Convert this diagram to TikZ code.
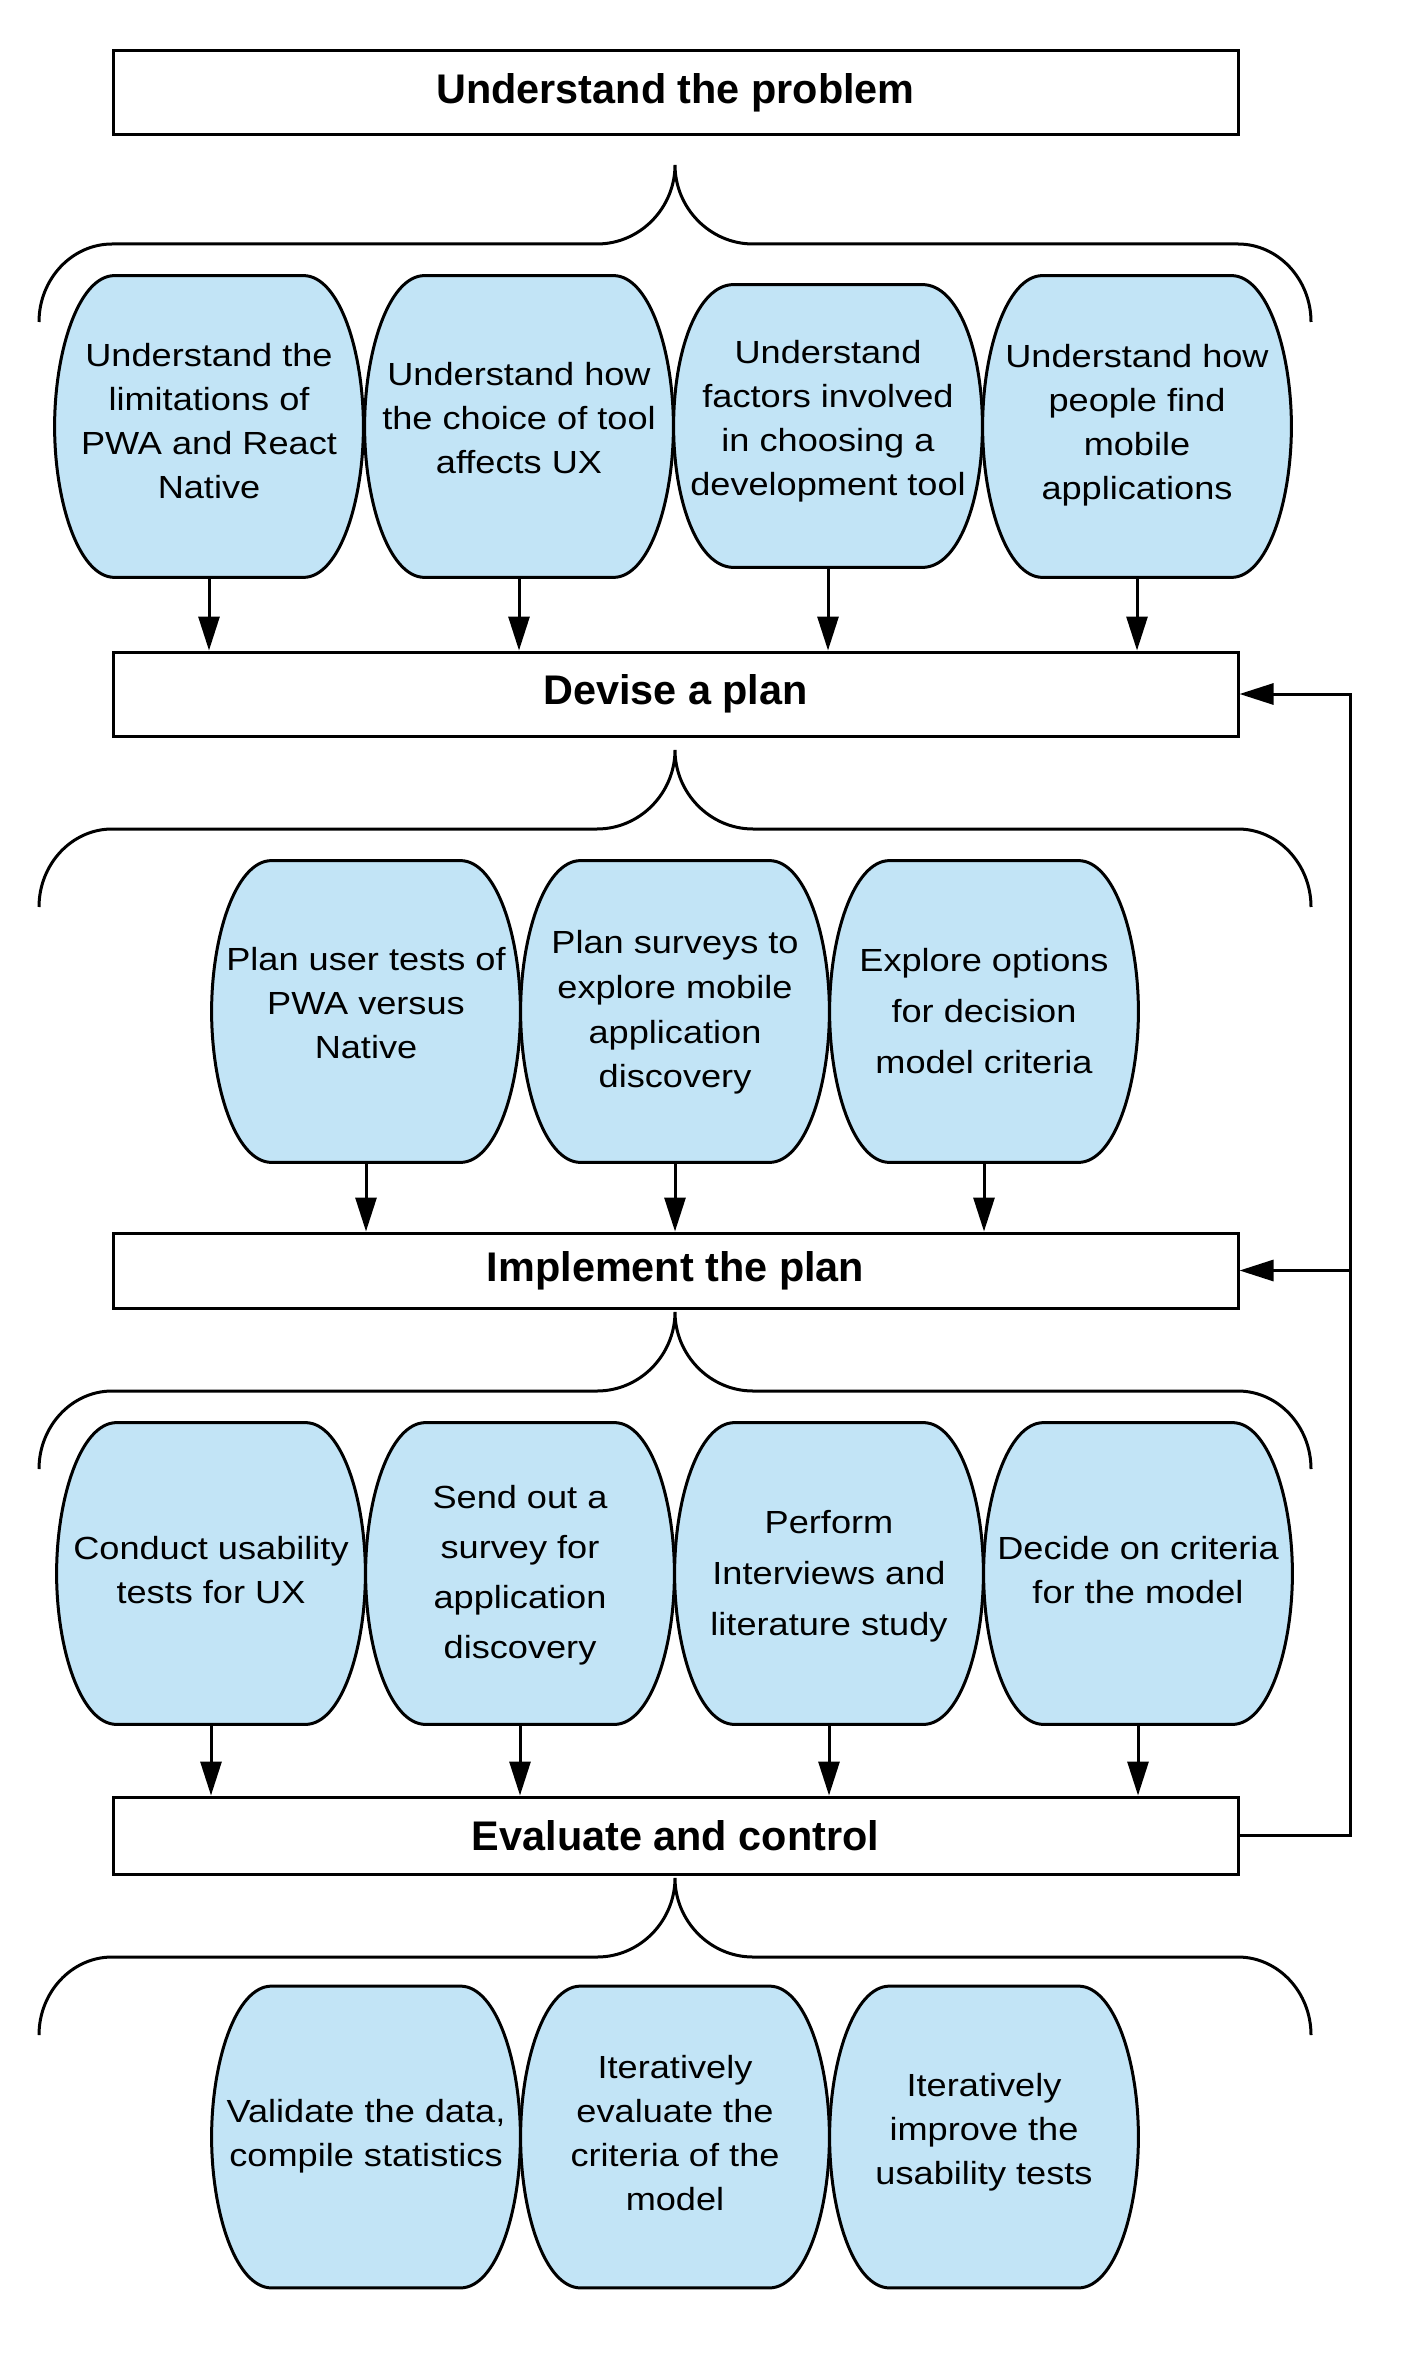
\documentclass[tikz,border=0pt]{standalone}
\usepackage{fontspec}
\setmainfont{Liberation Sans}
\newfontfamily\pillfont{Liberation Sans}[FakeStretch=1.13]
\usetikzlibrary{calc,arrows.meta}
\definecolor{pillblue}{RGB}{194,228,246}
\pgfdeclarelayer{bg}
\pgfsetlayers{bg,main}
\tikzset{
  ln/.style={line width=1.5pt,draw=black},
  arr/.style={ln,-{Triangle[length=17pt,width=10.5pt]}},
  titlebox/.style={ln,rectangle,minimum width=562.5pt,inner sep=0pt,
     font=\bfseries\fontsize{20.7}{24}\selectfont},
  pillbox/.style={rectangle,draw=none,inner sep=0pt,minimum width=154pt,minimum height=150.5pt},
  pilltext/.style={align=center,inner sep=0pt,font=\pillfont\fontsize{16}{22}\selectfont},
  pillshape/.style={ln,fill=pillblue,line join=round}
}
\newcommand\pillpath[1]{%
\begin{pgfonlayer}{bg}
\path[pillshape] ($(#1.north west)+(60,0)$) -- ($(#1.north east)+(-60,0)$)
 .. controls ($(#1.north east)+(-24,0)$) and ($(#1.east)+(0,-75)$) .. (#1.east)
 .. controls ($(#1.east)+(0,75)$) and ($(#1.south east)+(-24,0)$) .. ($(#1.south east)+(-60,0)$)
 -- ($(#1.south west)+(60,0)$)
 .. controls ($(#1.south west)+(24,0)$) and ($(#1.west)+(0,75)$) .. (#1.west)
 .. controls ($(#1.west)+(0,-75)$) and ($(#1.north west)+(24,0)$) .. ($(#1.north west)+(60,0)$) -- cycle;
\end{pgfonlayer}}
% brace: #1 = tip y
\newcommand\mybrace[1]{%
\draw[ln] (39,#1+157) .. controls (39,#1+114) and (72,#1+79) .. (112,#1+79)
  -- (597,#1+79) .. controls (640,#1+79) and (675,#1+43) .. (675,#1)
  .. controls (675,#1+43) and (710,#1+79) .. (753,#1+79)
  -- (1238,#1+79) .. controls (1278,#1+79) and (1311,#1+114) .. (1311,#1+157);}
\begin{document}
\begin{tikzpicture}[x=0.5pt,y=-0.5pt]
\begin{pgfonlayer}{bg}
\fill[white] (0,0) rectangle (1403,2353);
\end{pgfonlayer}
\useasboundingbox (0,0) rectangle (1403,2353);

% title boxes
\node[titlebox,minimum height=42pt] (box1) at (675.5,93) {Understand the problem};
\node[titlebox,minimum height=42pt] (box2) at (675.5,694) {Devise a plan};
\node[titlebox,minimum height=37.5pt] (box3) at (675.5,1270.5) {Implement the plan};
\node[titlebox,minimum height=38.5pt] (box4) at (675.5,1835.5) {Evaluate and control};

% braces
\mybrace{165}
\mybrace{750}
\mybrace{1312}
\mybrace{1878}

% row 1
\node[pillbox] (p11) at (209,426.5) {};
\node[pillbox] (p12) at (519,426.5) {};
\node[pillbox,minimum height=141pt] (p13) at (828,426) {};
\node[pillbox] (p14) at (1137,426.5) {};
\pillpath{p11}\pillpath{p12}\pillpath{p13}\pillpath{p14}
\node[pilltext] (t11) at ([yshift=2.5pt]p11.center) {Understand the\\limitations of\\PWA and React\\Native};
\node[pilltext] (t12) at ([yshift=4.25pt]p12.center) {Understand how\\the choice of tool\\affects UX};
\node[pilltext] (t13) at ([yshift=2.25pt]p13.center) {Understand\\factors involved\\in choosing a\\development tool};
\node[pilltext] (t14) at ([yshift=0.5pt]p14.center) {Understand how\\people find\\mobile\\applications};

% row 2
\node[pillbox] (p21) at (366,1011.5) {};
\node[pillbox] (p22) at (675,1011.5) {};
\node[pillbox] (p23) at (984,1011.5) {};
\pillpath{p21}\pillpath{p22}\pillpath{p23}
\node[pilltext] (t21) at ([yshift=4pt]p21.center) {Plan user tests of\\PWA versus\\Native};
\node[pilltext,font=\pillfont\fontsize{16}{22.3}\selectfont] (t22) at ([yshift=-0.5pt]p22.center) {Plan surveys to\\explore mobile\\application\\discovery};
\node[pilltext,font=\pillfont\fontsize{16}{25.5}\selectfont] (t23) at ([yshift=0.25pt]p23.center) {Explore options\\for decision\\model criteria};

% row 3
\node[pillbox] (p31) at (211,1573.5) {};
\node[pillbox] (p32) at (520,1573.5) {};
\node[pillbox] (p33) at (829,1573.5) {};
\node[pillbox] (p34) at (1138,1573.5) {};
\pillpath{p31}\pillpath{p32}\pillpath{p33}\pillpath{p34}
\node[pilltext] (t31) at ([yshift=1.75pt]p31.center) {Conduct usability\\tests for UX};
\node[pilltext,font=\pillfont\fontsize{16}{25}\selectfont] (t32) at ([yshift=-0.9pt]p32.center) {Send out a\\survey for\\application\\discovery};
\node[pilltext,font=\pillfont\fontsize{16}{25.5}\selectfont] (t33) at ([yshift=-1.25pt]p33.center) {Perform\\Interviews and\\literature study};
\node[pilltext] (t34) at ([yshift=1.75pt]p34.center) {Decide on criteria\\for the model};

% row 4
\node[pillbox] (p41) at (366,2137) {};
\node[pillbox] (p42) at (675,2137) {};
\node[pillbox] (p43) at (984,2137) {};
\pillpath{p41}\pillpath{p42}\pillpath{p43}
\node[pilltext] (t41) at ([yshift=0.5pt]p41.center) {Validate the data,\\compile statistics};
\node[pilltext] (t42) at ([yshift=1.9pt]p42.center) {Iteratively\\evaluate the\\criteria of the\\model};
\node[pilltext] (t43) at ([yshift=2.25pt]p43.center) {Iteratively\\improve the\\usability tests};

% arrows
\foreach \p in {p11,p12,p13,p14} \draw[arr] (\p.south) -- (\p.south |- box2.north);
\foreach \p in {p21,p22,p23} \draw[arr] (\p.south) -- (\p.south |- box3.north);
\foreach \p in {p31,p32,p33,p34} \draw[arr] (\p.south) -- (\p.south |- box4.north);

% feedback
\coordinate (fb) at (1350,0);
\draw[arr] (box4.east) -- (box4.east -| fb) |- (box2.east);
\draw[arr] (box3.east -| fb) -- (box3.east);
\end{tikzpicture}
\end{document}
